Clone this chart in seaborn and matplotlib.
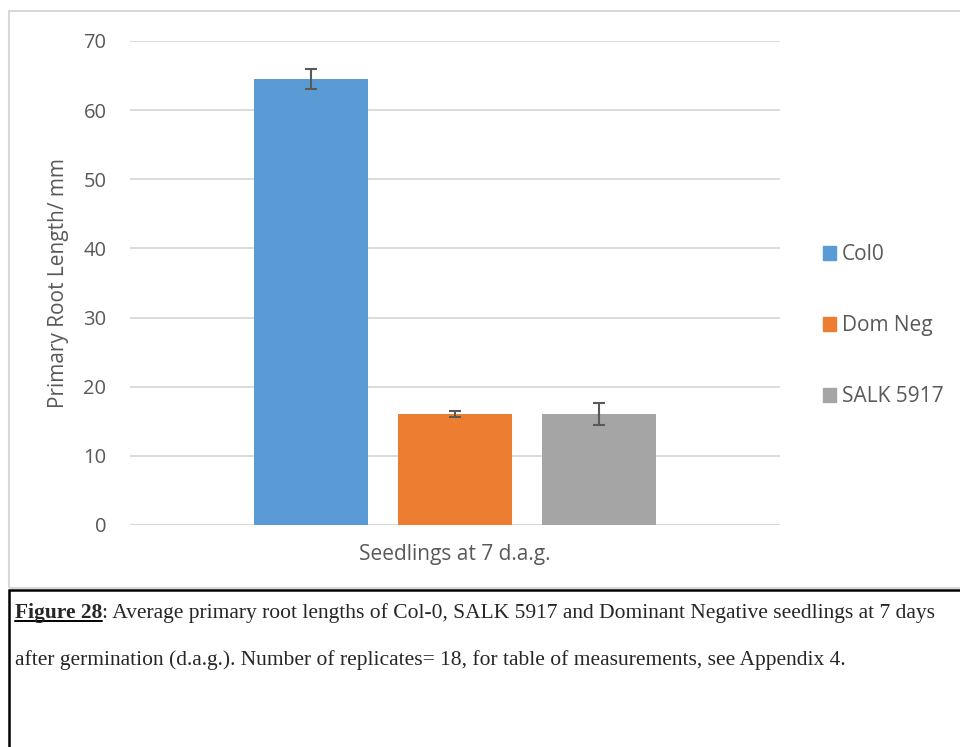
import matplotlib
matplotlib.use("Agg")
import matplotlib.pyplot as plt
from matplotlib.patches import Rectangle
from matplotlib.lines import Line2D
import seaborn as sns
import pandas as pd

# data
strains = ["Col0", "Dom Neg", "SALK 5917"]
root_length = [64.5, 16.1, 16.1]
root_err = [1.4, 0.45, 1.6]
group_label = "Seedlings at 7 d.a.g."
bar_colors = ["#5b9bd5", "#ed7d31", "#a5a5a5"]

caption_bold = "Figure 28"
caption_line1 = ": Average primary root lengths of Col-0, SALK 5917 and Dominant Negative seedlings at 7 days"
caption_line2 = "after germination (d.a.g.). Number of replicates= 18, for table of measurements, see Appendix 4."

df = pd.DataFrame({"group": [group_label] * len(strains), "strain": strains, "length": root_length})

sns.set_style("white")
plt.rcParams["font.family"] = ["Open Sans", "DejaVu Sans"]
text_gray = "#595959"

W, H = 960, 747
fig = plt.figure(figsize=(W / 100, H / 100), dpi=100)

# chart border and caption box
fig.add_artist(Rectangle((9 / W, 1 - 588 / H), 960 / W, 577 / H, transform=fig.transFigure,
                         fill=False, edgecolor="#d9d9d9", linewidth=1.5))
fig.add_artist(Rectangle((9 / W, -0.05), 960 / W, (0.05 + 1 - 590 / H), transform=fig.transFigure,
                         fill=False, edgecolor="black", linewidth=1.8))

ax = fig.add_axes([130 / W, 1 - 525 / H, 650 / W, 484 / H])
sns.barplot(data=df, x="group", y="length", hue="strain", palette=bar_colors,
            width=0.665, gap=0.208, saturation=1, linewidth=0, ax=ax, legend=False, zorder=3)

# error bars at the bar centres
for patch, y, e in zip(ax.patches, root_length, root_err):
    cx = patch.get_x() + patch.get_width() / 2
    ax.errorbar(cx, y, yerr=e, color=text_gray, capsize=4.5, elinewidth=1.5,
                capthick=1.5, zorder=4)

ax.set_xlim(-0.5, 0.5)
ax.set_ylim(0, 70)
ax.set_yticks(range(0, 71, 10))
ax.yaxis.grid(True, color="#d9d9d9", linewidth=1.3, zorder=0)
ax.set_axisbelow(True)
sns.despine(ax=ax, left=True, bottom=True, top=True, right=True)
ax.axhline(0, color="#d9d9d9", linewidth=1.5, zorder=1)
ax.tick_params(axis="y", length=0, colors=text_gray, labelsize=14.5, pad=17)
ax.tick_params(axis="x", length=0, colors=text_gray, pad=14)
ax.set_xticks([0])
ax.set_xticklabels([group_label], fontsize=15, color=text_gray)
ax.set_xlabel("")
ax.set_ylabel("Primary Root Length/ mm", fontsize=15, color=text_gray, labelpad=10)

handles = [Rectangle((0, 0), 1, 1, color=c) for c in bar_colors]
fig.legend(handles, strains, loc="center left", bbox_to_anchor=(804 / W, 1 - 326 / H),
           frameon=False, fontsize=15, labelcolor=text_gray, handlelength=0.62,
           handleheight=0.62, handletextpad=0.3, labelspacing=2.4)

# caption in serif text
serif = ["Liberation Serif", "DejaVu Serif"]
cap_size = 15.5
t_bold = fig.text(15 / W, 1 - 618 / H, caption_bold, fontsize=cap_size, fontweight="bold",
                  family=serif, va="baseline", ha="left")
fig.canvas.draw()
renderer = fig.canvas.get_renderer()
bb = t_bold.get_window_extent(renderer)
x_after = bb.x1 / W
fig.text(x_after, 1 - 618 / H, caption_line1, fontsize=cap_size, family=serif,
         va="baseline", ha="left")
fig.add_artist(Line2D([bb.x0 / W, bb.x1 / W], [1 - 621 / H, 1 - 621 / H],
                      transform=fig.transFigure, color="black", linewidth=1.4))
fig.text(15 / W, 1 - 665 / H, caption_line2, fontsize=cap_size, family=serif,
         va="baseline", ha="left")

fig.savefig("out.png", dpi=100)
